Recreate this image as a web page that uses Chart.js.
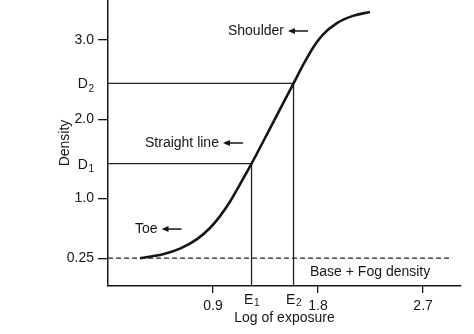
<!DOCTYPE html>
<html>
<head>
<meta charset="utf-8">
<script src="https://cdn.jsdelivr.net/npm/chart.js@4/dist/chart.umd.min.js"></script>
<style>
  html, body { margin: 0; padding: 0; background: #fff; }
  #wrap { width: 474px; height: 334px; }
</style>
</head>
<body>
<div id="wrap"><canvas id="hd"></canvas></div>
<script>
// ---- characteristic (H&D) curve data ----
var logExposure = [0.274, 0.471, 0.617, 0.763, 0.874, 0.96, 1.045, 1.131, 1.23, 1.41, 1.59, 1.671, 1.757, 1.842, 1.962, 2.099, 2.245];
var density     = [0.25, 0.30, 0.37, 0.49, 0.63, 0.78, 0.96, 1.18, 1.44, 1.945, 2.45, 2.68, 2.90, 3.065, 3.21, 3.30, 3.35];

var E1 = 1.23, E2 = 1.59;
var D1 = 1.44, D2 = 2.45;
var FOG = 0.25, FOG_END = 2.95;

// letter ticks ("E1", "D2" ...) are written with a subscript digit
var xTickValues = [0.9, E1, E2, 1.8, 2.7];
var xTickLabels = ["0.9", "E1", "E2", "1.8", "2.7"];
var yTickValues = [FOG, 1.0, D1, 2.0, D2, 3.0];
var yTickLabels = ["0.25", "1.0", "D1", "2.0", "D2", "3.0"];

var X_MIN = 0, X_MAX = 3.025;
var Y_MIN = -0.10, Y_MAX = 3.50;

// region labels, most with a left arrow after the text
var notes = [
  { text: "Shoulder", x: 1.028, y: 3.11, arrow: true },
  { text: "Straight line", x: 0.317, y: 1.70, arrow: true },
  { text: "Toe", x: 0.231, y: 0.617, arrow: true },
  { text: "Base + Fog density", x: 1.731, y: 0.074, arrow: false }
];

var INK = "#161616";
var FONT = "'Liberation Sans', Arial, Helvetica, sans-serif";
var FS = 14;

function pts(xs, ys) {
  return xs.map(function (x, i) { return { x: x, y: ys[i] }; });
}

function isLetter(label) { return /^[DE]/.test(label || ""); }

function tickLabel(values, labels) {
  return function (v) {
    var l = labels[values.indexOf(v)];
    return isLetter(l) ? "" : l;
  };
}

function tickColor(values, labels) {
  return function (c) {
    return c.tick && isLetter(labels[values.indexOf(c.tick.value)]) ? "rgba(0,0,0,0)" : INK;
  };
}

// draws the letter plus a smaller lowered digit
function drawSub(ctx, label, x, baseline, drop, align) {
  var main = label.charAt(0), sub = label.slice(1);
  ctx.font = FS + "px " + FONT;
  var wm = ctx.measureText(main).width;
  ctx.font = "10px " + FONT;
  var ws = ctx.measureText(sub).width;
  var left = align === "right" ? x - wm - ws - 0.5 : x - (wm + ws) / 2;
  ctx.textAlign = "left";
  ctx.textBaseline = "alphabetic";
  ctx.font = FS + "px " + FONT;
  ctx.fillText(main, left, baseline);
  ctx.font = "10px " + FONT;
  ctx.fillText(sub, left + wm + 0.5, baseline + drop);
}

var subTicks = {
  id: "subTicks",
  afterDraw: function (chart) {
    var ctx = chart.ctx, xs = chart.scales.x, ys = chart.scales.y;
    ctx.save();
    ctx.fillStyle = INK;
    yTickLabels.forEach(function (l, i) {
      if (!isLetter(l)) return;
      drawSub(ctx, l, ys.right - 10 - 4, ys.getPixelForValue(yTickValues[i]) + 5, 3.5, "right");
    });
    xTickLabels.forEach(function (l, i) {
      if (!isLetter(l)) return;
      drawSub(ctx, l, xs.getPixelForValue(xTickValues[i]), xs.top + 18, 2, "center");
    });
    ctx.restore();
  }
};

var noteLabels = {
  id: "noteLabels",
  afterDatasetsDraw: function (chart) {
    var ctx = chart.ctx, xs = chart.scales.x, ys = chart.scales.y;
    ctx.save();
    ctx.font = FS + "px " + FONT;
    ctx.fillStyle = INK;
    ctx.strokeStyle = INK;
    ctx.textBaseline = "middle";
    ctx.textAlign = "left";
    notes.forEach(function (n) {
      var px = xs.getPixelForValue(n.x), py = ys.getPixelForValue(n.y);
      ctx.fillText(n.text, px, py);
      if (!n.arrow) return;
      var a = px + ctx.measureText(n.text).width + 4, b = a + 20;
      ctx.lineWidth = 1.5;
      ctx.beginPath();
      ctx.moveTo(a + 5, py);
      ctx.lineTo(b, py);
      ctx.stroke();
      ctx.beginPath();
      ctx.moveTo(a, py);
      ctx.lineTo(a + 7, py - 3);
      ctx.lineTo(a + 7, py + 3);
      ctx.closePath();
      ctx.fill();
    });
    ctx.restore();
  }
};

new Chart(document.getElementById("hd"), {
  type: "line",
  data: {
    datasets: [
      { data: pts(logExposure, density), borderColor: INK, borderWidth: 2.6,
        pointRadius: 0, cubicInterpolationMode: "monotone" },
      { data: [{ x: X_MIN, y: D1 }, { x: E1, y: D1 }, { x: E1, y: Y_MIN }],
        borderColor: "#222", borderWidth: 1.3, pointRadius: 0, tension: 0 },
      { data: [{ x: X_MIN, y: D2 }, { x: E2, y: D2 }, { x: E2, y: Y_MIN }],
        borderColor: "#222", borderWidth: 1.3, pointRadius: 0, tension: 0 },
      { data: [{ x: X_MIN, y: FOG }, { x: FOG_END, y: FOG }],
        borderColor: "#222", borderWidth: 1.3, borderDash: [5, 3], pointRadius: 0 }
    ]
  },
  options: {
    responsive: true,
    maintainAspectRatio: false,
    animation: false,
    events: [],
    layout: { padding: { left: 0, right: 13, top: 0, bottom: 0 } },
    plugins: { legend: { display: false }, tooltip: { enabled: false } },
    scales: {
      x: {
        type: "linear", min: X_MIN, max: X_MAX,
        afterBuildTicks: function (axis) {
          axis.ticks = xTickValues.map(function (v) { return { value: v }; });
        },
        afterFit: function (axis) {
          axis.height = 48;
          axis.paddingLeft = 0; axis.paddingRight = 0;
        },
        ticks: {
          autoSkip: false, maxRotation: 0, padding: 5, color: INK,
          font: { family: FONT, size: FS },
          callback: tickLabel(xTickValues, xTickLabels)
        },
        grid: { drawOnChartArea: false, tickLength: 7, lineWidth: 1.3,
                color: tickColor(xTickValues, xTickLabels) },
        border: { display: true, color: INK, width: 1.5 },
        title: { display: true, text: "Log of exposure", color: INK,
                 font: { family: FONT, size: FS }, padding: { top: 0, bottom: 7 } }
      },
      y: {
        type: "linear", min: Y_MIN, max: Y_MAX,
        afterBuildTicks: function (axis) {
          axis.ticks = yTickValues.map(function (v) { return { value: v }; });
        },
        afterFit: function (axis) {
          axis.width = 108;
          axis.paddingTop = 0; axis.paddingBottom = 0;
        },
        ticks: {
          autoSkip: false, padding: 4, color: INK,
          font: { family: FONT, size: FS },
          callback: tickLabel(yTickValues, yTickLabels)
        },
        grid: { drawOnChartArea: false, tickLength: 10, lineWidth: 1.3,
                color: tickColor(yTickValues, yTickLabels) },
        border: { display: true, color: INK, width: 1.5 },
        title: { display: true, text: "Density", color: INK,
                 font: { family: FONT, size: FS }, padding: { top: 57, bottom: 0 } }
      }
    }
  },
  plugins: [noteLabels, subTicks]
});
</script>
</body>
</html>
